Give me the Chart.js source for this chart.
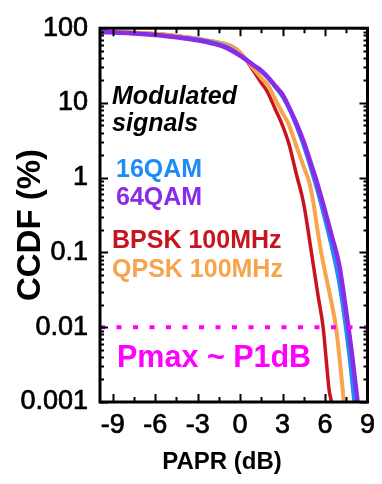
<!DOCTYPE html>
<html>
<head>
<meta charset="utf-8">
<script src="https://cdn.jsdelivr.net/npm/chart.js@4.4.1/dist/chart.umd.min.js"></script>
<style>
  html, body { margin: 0; padding: 0; background: #fff; }
  #wrap { width: 382px; height: 484px; }
</style>
</head>
<body>
<div id="wrap"><canvas id="ccdf" width="382" height="484"></canvas></div>
<script>
// CCDF of the PAPR for four modulated test signals
const seriesNames = ['16QAM', '64QAM', 'BPSK 100MHz', 'QPSK 100MHz'];

const paprQam16 = [-9.9, -8, -6, -5, -4, -3, -2, -1, 0, 0.5, 1, 1.5, 2, 2.5, 3, 3.5, 4, 4.5, 5, 5.5, 6, 6.5, 7, 7.45, 7.75, 8.05];
const ccdfQam16 = [89, 86.5, 82, 78.5, 75, 71, 65.5, 57.5, 44, 37.5, 31.5, 26, 21, 16, 12, 8, 4.7, 2.6, 1.3, 0.62, 0.27, 0.11, 0.038, 0.01, 0.0035, 0.001];

const paprQam64 = [-9.9, -8, -6, -5, -4, -3, -2, -1, 0, 0.5, 1, 1.5, 2, 2.5, 3, 3.5, 4, 4.5, 5, 5.5, 6, 6.5, 7, 7.5, 7.9, 8.3];
const ccdfQam64 = [89, 86, 81, 77.5, 73.5, 69, 63, 55, 43, 37, 31.5, 27, 21.8, 16.7, 12.9, 8.4, 5.2, 3.0, 1.55, 0.78, 0.36, 0.16, 0.068, 0.016, 0.0044, 0.001];

const paprBpsk = [-9.9, -8, -6, -5, -4, -3, -2, -1, -0.5, 0, 0.5, 1, 1.5, 1.91, 2.5, 2.95, 3.44, 4, 4.48, 5.04, 5.5, 5.87, 6.1, 6.29, 6.46];
const ccdfBpsk = [90, 88, 84, 81, 77, 72.5, 67, 61.5, 56, 47.5, 36, 26, 18.5, 14.3, 8.1, 5.25, 2.86, 1.07, 0.46, 0.1, 0.027, 0.0098, 0.0034, 0.00145, 0.001];

const paprQpsk = [-9.9, -8, -6, -5, -4, -3, -2, -1, -0.5, 0, 0.5, 1, 1.5, 2, 2.5, 3, 3.42, 4, 4.5, 4.9, 5.18, 5.45, 5.73, 6, 6.4, 6.78, 7.05, 7.33];
const ccdfQpsk = [90, 88, 84, 81, 77, 72.5, 67, 61, 55, 47, 37, 28, 21.5, 17, 11, 7.3, 5.25, 2.57, 1.39, 0.85, 0.46, 0.21, 0.1, 0.055, 0.024, 0.0098, 0.0035, 0.001];

// Compression limit marker
const limitLevel = 0.01;
const limitSpan = [-9.9, 9.8];
const limitLabel = 'Pmax ~ P1dB';

const xTickValues = [-9, -6, -3, 0, 3, 6, 9];
const yTickValues = [0.001, 0.01, 0.1, 1, 10, 100];

const xTitle = 'PAPR (dB)';
const yTitle = 'CCDF (%)';
const noteLines = ['Modulated', 'signals'];

const colors = {
  qam16: '#1e8cf2',
  qam64: '#8a2be8',
  bpsk: '#c8141e',
  qpsk: '#f7a44c',
  limit: '#ff00ff'
};

const FONT = "'Liberation Sans', Arial, Helvetica, sans-serif";
Chart.defaults.font.family = FONT;
Chart.defaults.color = '#000';

const toPoints = (xs, ys) => xs.map((v, i) => ({ x: v, y: ys[i] }));

// Inward ticks on all four sides plus the heavy frame
const framePlugin = {
  id: 'frame',
  afterDatasetsDraw(chart) {
    const { ctx, chartArea: a, scales: { x, y } } = chart;
    ctx.save();
    ctx.strokeStyle = '#000';
    ctx.lineWidth = 2;
    ctx.beginPath();
    for (let v = -9; v <= 9.001; v += 1.5) {
      const px = Math.round(x.getPixelForValue(v)) + 0.5;
      const len = Math.abs(v % 3) < 1e-6 ? 8 : 5;
      ctx.moveTo(px, a.bottom); ctx.lineTo(px, a.bottom - len);
      ctx.moveTo(px, a.top); ctx.lineTo(px, a.top + len);
    }
    for (let d = -3; d <= 2; d++) {
      for (let m = 1; m <= 9; m++) {
        const v = m * Math.pow(10, d);
        if (v > 100.0001) continue;
        const py = Math.round(y.getPixelForValue(v)) + 0.5;
        const len = m === 1 ? 8 : 4;
        ctx.moveTo(a.left, py); ctx.lineTo(a.left + len, py);
        ctx.moveTo(a.right, py); ctx.lineTo(a.right - len, py);
      }
    }
    ctx.stroke();
    ctx.lineWidth = 3;
    ctx.strokeRect(a.left, a.top, a.right - a.left, a.bottom - a.top);
    ctx.restore();
  }
};

// Axis titles and in-plot labels
const labelPlugin = {
  id: 'labels',
  afterDraw(chart) {
    const { ctx, scales: { x } } = chart;
    ctx.save();
    ctx.textBaseline = 'alphabetic';
    ctx.textAlign = 'left';

    const lx = x.getPixelForValue(-9.05);
    ctx.fillStyle = '#000';
    ctx.font = 'italic bold 25px ' + FONT;
    ctx.fillText(noteLines[0], lx, 104);
    ctx.fillText(noteLines[1], lx, 131);

    ctx.font = 'bold 25px ' + FONT;
    ctx.fillStyle = colors.qam16;
    ctx.fillText(seriesNames[0], lx + 4, 177);
    ctx.fillStyle = colors.qam64;
    ctx.fillText(seriesNames[1], lx + 4, 205);
    ctx.fillStyle = colors.bpsk;
    ctx.fillText(seriesNames[2], lx, 248);
    ctx.fillStyle = colors.qpsk;
    ctx.fillText(seriesNames[3], lx, 277);

    ctx.font = 'bold 30.5px ' + FONT;
    ctx.fillStyle = colors.limit;
    ctx.fillText(limitLabel, lx + 5, 367);

    // axis titles
    ctx.fillStyle = '#000';
    ctx.font = 'bold 24px ' + FONT;
    ctx.textAlign = 'center';
    ctx.fillText(xTitle, 222, 469);

    ctx.save();
    ctx.translate(40, 225);
    ctx.rotate(-Math.PI / 2);
    ctx.font = 'bold 33px ' + FONT;
    ctx.fillText(yTitle, 0, 0);
    ctx.restore();

    ctx.restore();
  }
};

const lineStyle = { pointRadius: 0, fill: false, cubicInterpolationMode: 'monotone', borderJoinStyle: 'round', borderCapStyle: 'butt' };
const tickFont = { size: 27 };

new Chart(document.getElementById('ccdf'), {
  type: 'line',
  data: {
    datasets: [
      Object.assign({}, lineStyle, {
        label: limitLabel,
        data: toPoints(limitSpan, [limitLevel, limitLevel]),
        borderColor: colors.limit,
        borderWidth: 4,
        borderDash: [5, 11.5],
        cubicInterpolationMode: 'default',
        clip: { left: 0, top: 0, right: 14, bottom: 0 }
      }),
      Object.assign({}, lineStyle, {
        label: seriesNames[1],
        data: toPoints(paprQam64, ccdfQam64),
        borderColor: colors.qam64,
        borderWidth: 4.5
      }),
      Object.assign({}, lineStyle, {
        label: seriesNames[0],
        data: toPoints(paprQam16, ccdfQam16),
        borderColor: colors.qam16,
        borderWidth: 3.5
      }),
      Object.assign({}, lineStyle, {
        label: seriesNames[3],
        data: toPoints(paprQpsk, ccdfQpsk),
        borderColor: colors.qpsk,
        borderWidth: 4
      }),
      Object.assign({}, lineStyle, {
        label: seriesNames[2],
        data: toPoints(paprBpsk, ccdfBpsk),
        borderColor: colors.bpsk,
        borderWidth: 3.5
      })
    ]
  },
  options: {
    responsive: false,
    animation: false,
    devicePixelRatio: 1,
    layout: { padding: { left: 0, right: 10, top: 23, bottom: 0 } },
    plugins: { legend: { display: false }, tooltip: { enabled: false } },
    scales: {
      x: {
        type: 'linear',
        min: -9.9,
        max: 9,
        grid: { display: false, drawTicks: false },
        border: { display: false },
        afterBuildTicks: s => { s.ticks = xTickValues.map(v => ({ value: v })); },
        afterFit: s => { s.height = 82; },
        ticks: { font: tickFont, color: '#000', textStrokeColor: '#000', textStrokeWidth: 0.7, padding: 7, maxRotation: 0, autoSkip: false }
      },
      y: {
        type: 'logarithmic',
        min: 0.001,
        max: 100,
        grid: { display: false, drawTicks: false },
        border: { display: false },
        afterBuildTicks: s => { s.ticks = yTickValues.map(v => ({ value: v })); },
        afterFit: s => { s.width = 100; },
        ticks: { font: tickFont, color: '#000', textStrokeColor: '#000', textStrokeWidth: 0.7, padding: 12, autoSkip: false, callback: v => String(v) }
      }
    }
  },
  plugins: [framePlugin, labelPlugin]
});
</script>
</body>
</html>
